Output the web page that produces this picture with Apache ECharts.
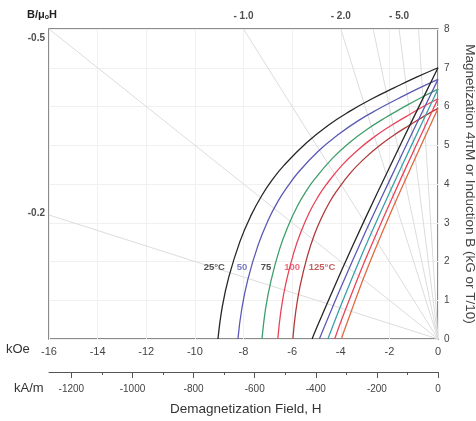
<!DOCTYPE html>
<html><head><meta charset="utf-8">
<script src="https://cdn.jsdelivr.net/npm/echarts@6/dist/echarts.min.js"></script>
<style>html,body{margin:0;padding:0;background:#fff}#c{width:476px;height:421px}</style>
</head><body><div id="c"></div>
<script>
// Temperature labels and colours
var temps = ['25°C', '50', '75', '100', '125°C'];
var colors = ['#262626', '#5a5ab4', '#3f9f6a', '#e8455a', '#b03a3a'];
var bColors = ['#262626', '#5a5ab4', '#3aa0a8', '#e8455a', '#e06a40'];

// Intrinsic curves 4πM (kG) vs H (kOe)
var j25 = [[0,7.0],[-0.905,6.75],[-1.81,6.48],[-2.715,6.2],[-3.62,5.88],[-4.525,5.51],[-5.43,5.05],[-6.335,4.48],[-6.79,4.13],[-7.24,3.71],[-7.69,3.19],[-8.145,2.52],[-8.6,1.61],[-8.87,0.84],[-9.05,0]];
var j50 = [[0,6.7],[-0.823,6.46],[-1.646,6.2],[-2.469,5.93],[-3.292,5.63],[-4.115,5.27],[-4.938,4.84],[-5.761,4.29],[-6.17,3.95],[-6.584,3.55],[-6.996,3.05],[-7.407,2.41],[-7.82,1.54],[-8.065,0.8],[-8.23,0]];
var j75 = [[0,6.45],[-0.724,6.22],[-1.448,5.97],[-2.172,5.71],[-2.896,5.42],[-3.62,5.08],[-4.344,4.66],[-5.068,4.13],[-5.43,3.81],[-5.792,3.42],[-6.154,2.93],[-6.516,2.32],[-6.878,1.48],[-7.095,0.77],[-7.24,0]];
var j100 = [[0,6.2],[-0.659,5.98],[-1.318,5.74],[-1.977,5.49],[-2.636,5.21],[-3.295,4.88],[-3.954,4.48],[-4.613,3.97],[-4.943,3.66],[-5.272,3.29],[-5.602,2.82],[-5.931,2.23],[-6.261,1.43],[-6.458,0.74],[-6.59,0]];
var j125 = [[0,5.95],[-0.597,5.74],[-1.194,5.51],[-1.791,5.27],[-2.388,5.0],[-2.985,4.68],[-3.582,4.3],[-4.179,3.81],[-4.478,3.51],[-4.776,3.15],[-5.075,2.71],[-5.373,2.14],[-5.672,1.37],[-5.851,0.71],[-5.97,0]];

// Normal curves B (kG) vs H (kOe)
var b25 = [[0,7.0],[-1,5.72],[-2,4.42],[-3,3.1],[-4,1.72],[-5,0.28],[-5.18,0]];
var b50 = [[0,6.7],[-1,5.4],[-2,4.08],[-3,2.74],[-4,1.32],[-4.88,0]];
var b75 = [[0,6.45],[-1,5.12],[-2,3.77],[-3,2.37],[-4,0.86],[-4.53,0]];
var b100 = [[0,6.2],[-1,4.86],[-2,3.48],[-3,2.03],[-4,0.44],[-4.25,0]];
var b125 = [[0,5.95],[-1,4.58],[-2,3.18],[-3,1.67],[-3.9,0.14],[-3.97,0]];

// Load lines (B/μ0H permeance) — end points where they leave the plot
var loadLabels = ['-0.2', '-0.5', '- 1.0', '- 2.0', '- 5.0', '', ''];
var loadEnds = [[-16,3.2],[-16,8],[-8,8],[-4,8],[-1.6,8],[-2.667,8],[-0.8,8]];

// Temperature label positions (H, B)
var tempLabelPos = [[-9.2,1.86],[-8.06,1.86],[-7.07,1.86],[-6.0,1.86],[-4.77,1.86]];

// Axis ticks
var kOeTicks = [-16,-14,-12,-10,-8,-6,-4,-2,0];
var kAmMajor = [-1200,-1000,-800,-600,-400,-200,0];
var kAmMinor = [-1100,-900,-700,-500,-300,-100];
var kAmMin = -1273.24;

var FONT = 'Liberation Sans, Arial, sans-serif';
var series = [];
var jData = [j25, j50, j75, j100, j125];
var bData = [b25, b50, b75, b100, b125];

loadEnds.forEach(function (e, i) {
  series.push({type:'line', xAxisIndex:0, yAxisIndex:0, data:[[0,0], e], symbol:'none', silent:true,
    lineStyle:{color:'#dcdcdc', width:1}, z:1});
});
jData.forEach(function (d, i) {
  series.push({type:'line', data:d, smooth:0.45, symbol:'none', lineStyle:{color:colors[i], width:1.3}, z:3});
});
bData.forEach(function (d, i) {
  series.push({type:'line', data:d, smooth:0.3, symbol:'none', lineStyle:{color:bColors[i], width:1.3}, z:3});
});
// load line labels
series.push({type:'scatter', symbolSize:0, z:5,
  data: loadEnds.map(function (e, i) {
    var lbl = {show: !!loadLabels[i], formatter: loadLabels[i], fontWeight:'bold', fontSize:10, color:'#222', fontFamily:FONT};
    if (e[0] === -16) { lbl.position = 'left'; lbl.distance = 4; lbl.offset = (e[1] === 8) ? [0, 9] : [0, -2]; }
    else { lbl.position = 'top'; lbl.distance = 8; }
    return {value: e, label: lbl};
  })
});
// temperature labels
series.push({type:'scatter', symbolSize:0, z:6,
  data: tempLabelPos.map(function (p, i) {
    return {value:p, label:{show:true, position:'inside', formatter:temps[i], fontSize:9.5, fontWeight:'bold',
      color: i === 2 ? '#222' : colors[i], fontFamily:FONT}};
  })
});

var option = {
  animation:false,
  textStyle:{fontFamily:FONT},
  grid:[
    {left:49, right:38, top:29, bottom:82, show:true, borderColor:'#666', borderWidth:1.5, backgroundColor:'transparent', containLabel:false, outerBoundsMode:'none'},
    {left:49, right:38, top:371, height:1, containLabel:false, outerBoundsMode:'none'}
  ],
  xAxis:[
    {type:'value', gridIndex:0, min:-16, max:0, interval:2, position:'bottom',
      axisLine:{show:false}, axisTick:{show:false},
      axisLabel:{color:'#444', fontSize:11, margin:7, customValues:kOeTicks},
      splitLine:{show:true, lineStyle:{color:'#f0f0f0', width:1}}},
    {type:'value', gridIndex:1, min:kAmMin, max:0, position:'bottom',
      axisLine:{show:true, lineStyle:{color:'#555', width:1}},
      axisTick:{show:true, length:6, customValues:kAmMajor, lineStyle:{color:'#555'}},
      axisLabel:{color:'#444', fontSize:10, margin:12, customValues:kAmMajor, formatter:function (v) { return String(v); }},
      splitLine:{show:false}},
    {type:'value', gridIndex:1, min:kAmMin, max:0, position:'bottom',
      axisLine:{show:false},
      axisTick:{show:true, length:3, customValues:kAmMinor, lineStyle:{color:'#555'}},
      axisLabel:{show:false}, splitLine:{show:false}}
  ],
  yAxis:[
    {type:'value', gridIndex:0, min:0, max:8, interval:1, position:'right',
      axisLine:{show:false}, axisTick:{show:false},
      axisLabel:{color:'#444', fontSize:10, margin:6},
      splitLine:{show:true, lineStyle:{color:'#f0f0f0', width:1}},
      name:'Magnetization 4πM or Induction B (kG or T/10)', nameLocation:'middle', nameRotate:-90, nameGap:25,
      nameTextStyle:{color:'#444', fontSize:13.5, fontFamily:FONT}},
    {type:'value', gridIndex:1, show:false, min:0, max:1}
  ],
  graphic:[
    {type:'text', left:27, top:9, style:{rich:{b:{fontSize:11, fontWeight:'bold', fill:'#222', fontFamily:FONT}, s:{fontSize:7, fontWeight:'bold', fill:'#222', verticalAlign:'bottom', padding:[6,0,0,0], fontFamily:FONT}},
      text:'{b|B/μ}{s|o}{b|H}'}},
    {type:'text', left:6, top:343, style:{text:'kOe', fontSize:13, fill:'#333', fontFamily:FONT}},
    {type:'text', left:14, top:382, style:{text:'kA/m', fontSize:13, fill:'#333', fontFamily:FONT}},
    {type:'text', left:170, top:402, style:{text:'Demagnetization Field, H', fontSize:13.5, fill:'#333', fontFamily:FONT}}
  ],
  series:series
};
var chart = echarts.init(document.getElementById('c'), null, {renderer:'canvas'});
chart.setOption(option);
</script></body></html>
